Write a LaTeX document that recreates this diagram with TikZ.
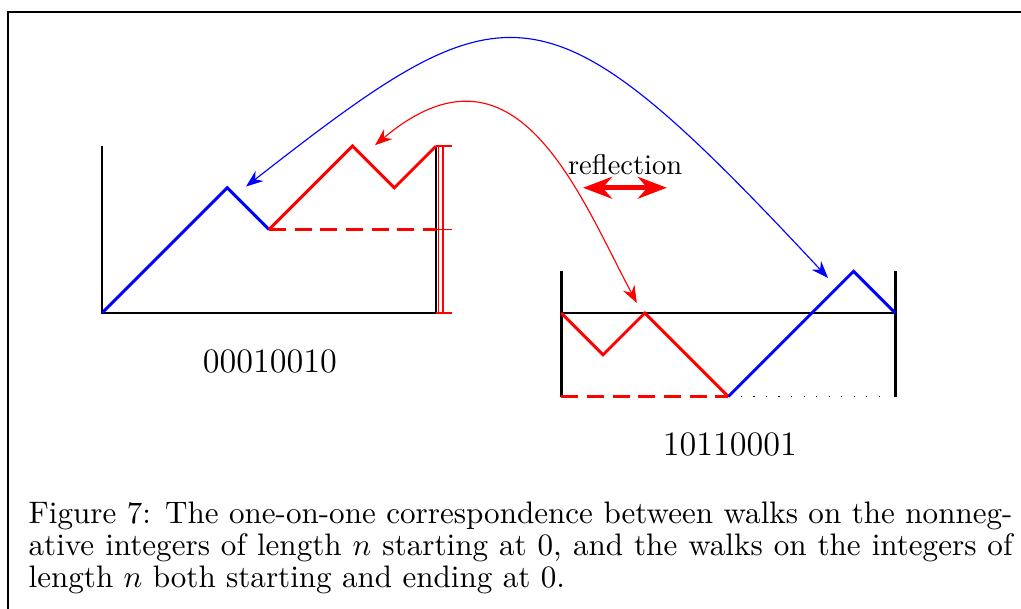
\documentclass[tikz,border=0pt]{standalone}
\usepackage{tikz}
\usetikzlibrary{arrows.meta, positioning}
\tikzset{
  wall/.style={black, line width=1pt},
  bluewalk/.style={blue, line width=1pt},
  redwalk/.style={red, line width=1pt},
  redlevel/.style={red, line width=0.8pt, dash pattern=on 6pt off 3pt},
  gauge/.style={red, semithick},
  pairing/.style={<->, >={Stealth[length=6pt, width=4.5pt]}, thin},
  reflectarrow/.style={<->, >=Stealth, red, ultra thick},
  wordlabel/.style={font=\large, inner sep=0pt},
}

\begin{document}
\begin{tikzpicture}[x=14.64pt, y=14.64pt]
\useasboundingbox (-2.443,-7.066) rectangle (22.012,7.497);

% --- frame ---
\draw[line width=1pt] (-2.25,-7.3) -- (-2.25,7.21) -- (22.3,7.21);

% --- left walk (nonnegative integers) ---
\draw[wall] (0,4) -- (0,0) -- (8,0) -- (8,4);
\draw[bluewalk] (0,0) -- (3,3) -- (4,2);
\draw[redwalk] (4,2) -- (6,4) -- (7,3) -- (8,4);
\draw[redlevel] (4,2) -- (8,2);

\draw[red, very thin] (8.06,0) -- (8.06,4);
\draw[gauge] (8.17,0) -- (8.17,4);
\foreach \h in {0,2,4}
  \draw[gauge] (8,\h) -- (8.38,\h);

\node[wordlabel] (leftword) at (4.02,-1.17) {00010010};

% --- right walk (integers, back to 0) ---
\draw[wall] (11,1) -- (11,-2);
\draw[wall] (19,1) -- (19,-2);
\draw[wall] (11,0) -- (19,0);
\draw[redwalk] (11,0) -- (12,-1) -- (13,0) -- (15,-2);
\draw[bluewalk] (15,-2) -- (18,1) -- (19,0);
\draw[redlevel] (11,-2) -- (15,-2);
\draw[thin, loosely dotted] (15,-2) -- (18.8,-2);

\node[wordlabel] (rightword) at (15.04,-3.16) {10110001};

% --- reflection ---
\coordinate (reflL) at (11.52,3);
\coordinate (reflR) at (13.53,3);
\draw[reflectarrow] (reflL) -- (reflR);
\node[inner sep=0pt] (refl) at (12.53,3.55) {reflection};

% --- correspondence arcs ---
\coordinate (blueA) at (3.45,3.03);
\coordinate (blueB) at (17.39,0.84);
\draw[pairing, blue] (blueA) .. controls +(38:8) and +(133:10) .. (blueB);

\coordinate (redA) at (6.54,4.02);
\coordinate (redB) at (12.81,0.24);
\draw[pairing, red] (redA) .. controls +(40:4.4) and +(118:3) .. (redB);

% --- caption ---
\node[anchor=north west, inner sep=0pt, text width=345pt, align=justify,
      font=\fontsize{10.9pt}{11.3pt}\selectfont]
    (caption) at (-1.77,-4.51) {%
    Figure 7: The one-on-one correspondence between walks on the nonneg-\linebreak
    ative integers of length $n$ starting at 0, and the walks on the integers of\linebreak
    length $n$ both starting and ending at 0.};

\end{tikzpicture}
\end{document}
